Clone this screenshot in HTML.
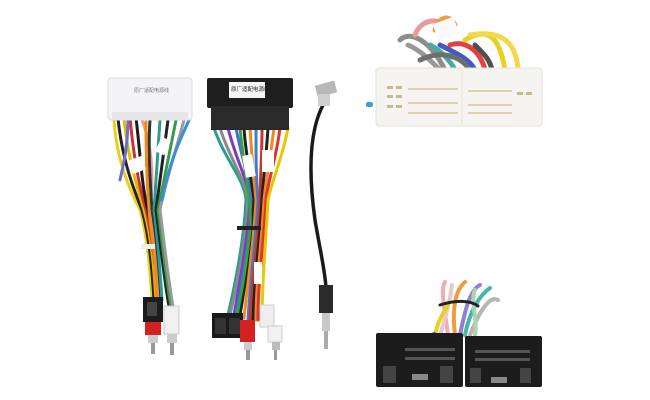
<!DOCTYPE html>
<html><head><meta charset="utf-8"><style>
html,body{margin:0;padding:0;background:#fff;width:650px;height:400px;overflow:hidden}
svg{display:block}
</style></head><body>
<svg width="650" height="400" viewBox="0 0 650 400" xmlns="http://www.w3.org/2000/svg" fill="none" stroke-linecap="round">
<!-- LEFT HARNESS wires -->
<g stroke-width="3">
<path d="M114 118 C116 160 130 190 140 210 C148 240 150 270 152 300" stroke="#e8cf1a"/>
<path d="M118 118 C122 160 134 190 142 210 C150 240 152 270 154 300" stroke="#222"/>
<path d="M124 118 C128 160 138 190 144 210 C152 240 154 270 156 300" stroke="#e6b800"/>
<path d="M130 118 C134 160 140 190 146 210 C153 240 156 270 158 300" stroke="#c33"/>
<path d="M136 118 C140 150 142 190 148 210 C154 240 157 270 159 300" stroke="#1a1a1a"/>
<path d="M142 120 C150 140 155 170 150 210 C155 240 158 270 160 300" stroke="#e89aa0"/>
<path d="M150 120 C148 150 150 180 152 210 C157 240 159 270 161 300" stroke="#333"/>
<path d="M160 120 C158 150 156 180 154 210 C158 240 160 270 162 300" stroke="#2a9d8f"/>
<path d="M168 120 C164 150 160 180 156 210 C160 240 164 280 170 312" stroke="#222"/>
<path d="M176 120 C170 150 164 180 158 210 C162 240 166 280 172 312" stroke="#3a9a4a"/>
<path d="M184 120 C176 150 166 180 160 210 C164 240 168 280 174 312" stroke="#9a9a9a"/>
<path d="M190 118 C180 140 170 160 162 200" stroke="#3b8fd0"/>
<path d="M128 118 C128 150 122 170 120 180" stroke="#6d6dd0"/>
<path d="M146 122 C146 170 148 200 150 220 C154 250 156 270 157 300" stroke="#f08a1c"/>
</g>
<rect x="108" y="78" width="84" height="42" rx="3" fill="#f4f4f6" stroke="#ddd"/>
<rect x="112" y="112" width="76" height="8" fill="#e6e6ea"/>
<text x="134" y="92" font-family="Liberation Sans,Noto Sans CJK SC,sans-serif" font-size="5" fill="#777">原厂适配电源线</text>
<rect x="130" y="158" width="14" height="14" fill="#fff" transform="rotate(-20 137 165)"/>
<rect x="158" y="138" width="10" height="16" fill="#fff" transform="rotate(25 163 146)"/>
<rect x="141" y="244" width="14" height="5" fill="#eee"/>
<rect x="143" y="297" width="20" height="25" fill="#1c1c1c"/>
<rect x="147" y="302" width="10" height="14" fill="#444"/>
<rect x="145" y="322" width="16" height="13" fill="#d42222"/>
<rect x="148" y="335" width="10" height="8" fill="#ccc"/>
<rect x="151" y="343" width="4" height="11" fill="#999"/>
<rect x="164" y="306" width="15" height="28" fill="#f0f0f0" stroke="#ccc"/>
<rect x="167" y="334" width="10" height="9" fill="#ccc"/>
<rect x="170" y="343" width="4" height="12" fill="#999"/>

<!-- MIDDLE HARNESS wires -->
<g stroke-width="3">
<path d="M214 128 C225 160 245 180 246 200 C244 240 236 280 228 315" stroke="#2a9d8f"/>
<path d="M220 128 C230 160 246 180 248 200 C246 240 238 280 230 315" stroke="#8a8a8a"/>
<path d="M228 128 C236 160 248 180 250 200 C248 240 240 280 234 315" stroke="#7a3bbf"/>
<path d="M236 128 C242 160 250 180 252 200 C250 240 242 280 236 315" stroke="#3f6fd8"/>
<path d="M244 128 C246 160 252 180 254 200 C252 240 246 280 240 315" stroke="#222"/>
<path d="M250 128 C252 160 254 180 256 200 C254 240 248 280 244 318" stroke="#f08a1c"/>
<path d="M256 115 C256 160 256 180 258 200 C256 240 250 280 248 320" stroke="#3b7ed0"/>
<path d="M262 128 C262 160 260 180 260 200 C258 240 252 280 250 320" stroke="#c33"/>
<path d="M268 128 C266 160 263 180 262 200 C260 240 254 280 253 320" stroke="#222"/>
<path d="M274 128 C270 160 266 180 264 200 C262 240 256 280 256 320" stroke="#f08a1c"/>
<path d="M280 128 C276 160 268 180 266 200 C264 240 258 280 258 320" stroke="#d33"/>
<path d="M288 128 C282 160 272 180 268 200 C266 240 262 280 262 320" stroke="#e6c800"/>
<path d="M240 128 C244 170 252 200 250 230 C246 270 240 300 236 320" stroke="#38a048"/>
</g>
<rect x="207" y="78" width="86" height="30" rx="2" fill="#1e1e1e"/>
<rect x="211" y="106" width="78" height="24" fill="#2a2a2a"/>
<rect x="229" y="82" width="36" height="16" fill="#f4f4f4"/>
<text x="231" y="91" font-family="Liberation Sans,Noto Sans CJK SC,sans-serif" font-size="5.5" fill="#222">原厂适配电源线</text>
<rect x="244" y="155" width="10" height="22" fill="#fff" transform="rotate(-10 249 166)"/>
<rect x="262" y="150" width="12" height="22" fill="#fff"/>
<rect x="237" y="226" width="24" height="4" fill="#222"/>
<rect x="254" y="262" width="8" height="22" fill="#fff"/>
<rect x="212" y="313" width="31" height="25" fill="#1a1a1a"/>
<rect x="215" y="318" width="11" height="16" fill="#333"/>
<rect x="229" y="318" width="11" height="16" fill="#333"/>
<rect x="240" y="320" width="15" height="22" fill="#d42222"/>
<rect x="244" y="342" width="8" height="8" fill="#ccc"/>
<rect x="246" y="350" width="4" height="10" fill="#999"/>
<rect x="260" y="305" width="14" height="22" fill="#eee" stroke="#ccc"/>
<rect x="268" y="326" width="14" height="16" fill="#f2f2f2" stroke="#ccc"/>
<rect x="272" y="342" width="8" height="8" fill="#bbb"/>
<rect x="274" y="350" width="3" height="10" fill="#999"/>

<!-- ANTENNA -->
<path d="M323 105 C310 130 308 170 315 220 C320 250 325 270 326 288" stroke="#1a1a1a" stroke-width="3.5"/>
<rect x="316" y="83" width="20" height="12" fill="#b8b8b8" transform="rotate(-15 326 89)"/>
<rect x="318" y="94" width="12" height="12" fill="#d0d0d0"/>
<rect x="319" y="285" width="14" height="28" fill="#2a2a2a"/>
<rect x="322" y="313" width="8" height="18" fill="#c8c8c8"/>
<rect x="324" y="331" width="4" height="18" fill="#aaa"/>

<!-- TOP RIGHT connector wires -->
<g stroke-width="5" opacity="0.85">
<path d="M400 40 C410 30 430 40 445 70" stroke="#7a7a7a"/>
<path d="M408 45 C420 50 430 60 440 70" stroke="#888"/>
<path d="M415 35 C420 20 440 15 445 30" stroke="#e58a8a"/>
<path d="M435 30 C440 15 450 15 455 25" stroke="#f08a1c"/>
<path d="M430 45 C440 50 450 60 455 70" stroke="#2a9d8f"/>
<path d="M440 45 C460 55 470 60 475 70" stroke="#1f3fbf"/>
<path d="M450 45 C465 40 480 50 485 70" stroke="#d22"/>
<path d="M465 40 C490 25 500 40 505 70" stroke="#e6c800"/>
<path d="M470 35 C500 30 515 40 518 68" stroke="#f2d22a"/>
<path d="M420 60 C440 50 460 55 470 70" stroke="#555"/>
<path d="M475 45 C485 55 490 60 492 70" stroke="#333"/>
</g>
<rect x="435" y="20" width="22" height="18" fill="#fafafa" transform="rotate(-20 446 29)"/>
<rect x="376" y="68" width="166" height="58" rx="3" fill="#f6f4f0" stroke="#e6e2d8"/>
<line x1="462" y1="70" x2="462" y2="124" stroke="#e4dfd4"/>
<g fill="#c9b98e">
<rect x="387" y="86" width="6" height="3"/><rect x="396" y="86" width="6" height="3"/>
<rect x="387" y="95" width="6" height="3"/><rect x="396" y="95" width="6" height="3"/>
<rect x="387" y="105" width="6" height="3"/><rect x="396" y="105" width="6" height="3"/>
<rect x="517" y="92" width="6" height="3"/><rect x="526" y="92" width="6" height="3"/>
</g>
<g fill="#ddd0b0">
<rect x="408" y="88" width="50" height="2"/><rect x="408" y="102" width="50" height="2"/><rect x="408" y="112" width="50" height="2"/>
<rect x="468" y="90" width="44" height="2"/><rect x="468" y="104" width="44" height="2"/><rect x="468" y="112" width="44" height="2"/>
</g>
<rect x="366" y="102" width="7" height="5" rx="2" fill="#3aa3d0"/>

<!-- BOTTOM RIGHT connector wires -->
<g stroke-width="4" opacity="0.85">
<path d="M448 335 C445 310 440 290 445 282" stroke="#f0a0a0"/>
<path d="M455 335 C452 310 455 290 465 282" stroke="#f08a1c"/>
<path d="M460 335 C465 310 470 290 480 285" stroke="#7a6ad0"/>
<path d="M465 335 C470 310 480 295 490 288" stroke="#2aa89a"/>
<path d="M470 335 C480 310 490 295 498 300" stroke="#aaa"/>
<path d="M440 335 C445 320 450 300 452 285" stroke="#e3c0c0"/>
<path d="M435 335 C438 320 445 310 448 305" stroke="#e6c800"/>
<path d="M475 335 C478 320 470 300 475 290" stroke="#9ad0a0"/>
</g>
<path d="M440 305 C455 300 470 300 478 306" stroke="#222" stroke-width="3"/>
<circle cx="434" cy="335" r="3" fill="#2a6fd0"/>
<rect x="376" y="333" width="87" height="54" rx="2" fill="#1c1c1c"/>
<rect x="465" y="336" width="77" height="51" rx="2" fill="#1c1c1c"/>
<g fill="#444">
<rect x="383" y="366" width="13" height="17"/><rect x="440" y="366" width="13" height="17"/>
<rect x="470" y="368" width="11" height="15"/><rect x="520" y="368" width="11" height="15"/>
</g>
<rect x="412" y="374" width="16" height="6" fill="#888"/>
<rect x="491" y="377" width="16" height="6" fill="#888"/>
<g fill="#555">
<rect x="405" y="348" width="50" height="3"/><rect x="405" y="357" width="50" height="3"/>
<rect x="475" y="350" width="55" height="3"/><rect x="475" y="358" width="55" height="3"/>
</g>
</svg>
</body></html>
